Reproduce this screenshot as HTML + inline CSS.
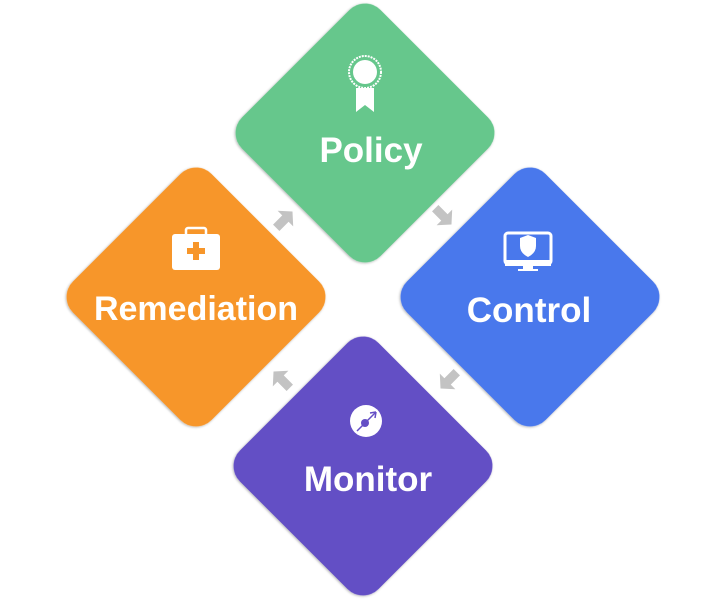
<!DOCTYPE html>
<html><head><meta charset="utf-8"><style>
html,body{margin:0;padding:0;background:#fff;width:725px;height:604px;overflow:hidden}
svg{display:block}
text{font-family:"Liberation Sans",sans-serif;font-weight:bold;fill:#fff;text-anchor:middle}
</style></head><body>
<svg width="725" height="604" viewBox="0 0 725 604">
<defs>
<filter id="sh" x="-20%" y="-20%" width="140%" height="140%"><feDropShadow dx="0" dy="1" stdDeviation="1.2" flood-color="#000" flood-opacity="0.3"/></filter>
<path id="arr" d="M-11,-4.5 L2,-4.5 L2,-11 L12,0 L2,11 L2,4.5 L-11,4.5 Z" fill="#c3c3c3"/>
</defs>
<rect x="-98" y="-98" width="196" height="196" rx="22" fill="#66c78c" filter="url(#sh)" transform="translate(365,133) rotate(45)"/>
<rect x="-98" y="-98" width="196" height="196" rx="22" fill="#4a78ec" filter="url(#sh)" transform="translate(530,297) rotate(45)"/>
<rect x="-98" y="-98" width="196" height="196" rx="22" fill="#f7962a" filter="url(#sh)" transform="translate(196,297) rotate(45)"/>
<rect x="-98" y="-98" width="196" height="196" rx="22" fill="#644fc5" filter="url(#sh)" transform="translate(363,466) rotate(45)"/>
<use href="#arr" transform="translate(284,220) rotate(-45)"/>
<use href="#arr" transform="translate(443,216) rotate(45)"/>
<use href="#arr" transform="translate(449,380) rotate(135)"/>
<use href="#arr" transform="translate(282,380) rotate(-135)"/>
<text x="371" y="162" font-size="35">Policy</text>
<text x="529" y="322" font-size="35">Control</text>
<text x="196" y="320" font-size="34">Remediation</text>
<text x="368" y="491" font-size="35">Monitor</text>
<circle cx="365" cy="72" r="16" fill="none" stroke="#fff" stroke-width="2" stroke-dasharray="2 1"/>
<circle cx="365" cy="72" r="12" fill="#fff"/>
<path d="M356,88 L356,112 L365,105 L374,112 L374,88 Z" fill="#fff"/>
<rect x="172" y="234" width="48" height="36" rx="3" fill="#fff"/>
<rect x="186" y="228" width="20" height="8" rx="2" fill="none" stroke="#fff" stroke-width="2.5"/>
<path d="M193,242 h6 v6 h6 v6 h-6 v6 h-6 v-6 h-6 v-6 h6 Z" fill="#f7962a"/>
<rect x="505" y="233" width="46" height="31" rx="3" fill="none" stroke="#fff" stroke-width="3"/>
<rect x="505" y="260" width="46" height="6" fill="#fff"/>
<rect x="523" y="266" width="10" height="4" fill="#fff"/>
<rect x="518" y="269" width="20" height="2" fill="#fff"/>
<path d="M520,238 L528,235 L536,238 L536,246 Q536,253 528,257 Q520,253 520,246 Z" fill="#fff"/>
<circle cx="366" cy="421" r="16" fill="#fff"/>
<line x1="357" y1="431" x2="376" y2="412" stroke="#644fc5" stroke-width="1.5"/>
<path d="M376,412 l-6,1 M376,412 l-1,6" stroke="#644fc5" stroke-width="1.5"/>
<circle cx="365" cy="423" r="4" fill="#644fc5"/>
</svg>
</body></html>
